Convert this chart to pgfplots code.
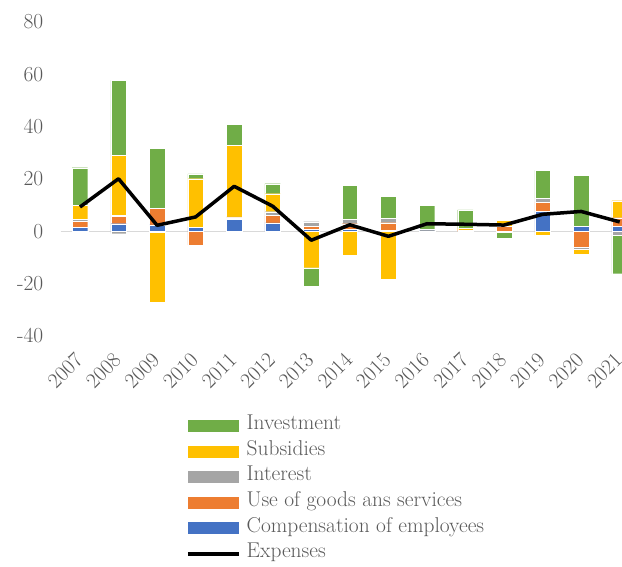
\documentclass[border=0pt]{standalone}
\usepackage{fontspec}
\usepackage{pgfplots}
\usepackage{pgfplotstable}
\pgfplotsset{compat=1.18}
\definecolor{cinv}{HTML}{70AD47}
\definecolor{csub}{HTML}{FFC000}
\definecolor{cint}{HTML}{A5A5A5}
\definecolor{cgoo}{HTML}{ED7D31}
\definecolor{ccom}{HTML}{4472C4}
\definecolor{tcol}{HTML}{595959}
\definecolor{zcol}{HTML}{D9D9D9}

\pgfplotstableread{
x comp goods inter subs inv
0  1.6 2.3 0.8 5.2 14.4
1  2.9 2.8 0.3 23.0 28.7
2  2.5 6.2 0 0 22.9
3  1.6 0 0 18.5 1.9
4  4.6 0.5 0.4 27.4 7.9
5  3.2 2.9 1.4 6.9 3.8
6  0.8 1.2 1.7 0 0
7  0.8 2.1 1.6 0 13.1
8  0.4 2.9 1.7 0 8.5
9  0.2 0 0.5 0 9.2
10 0 0.6 0 0.6 7.0
11 0 2.0 0 2.2 0
12 7.6 3.6 1.3 0 10.8
13 1.9 0 0 0 19.6
14 1.9 3.3 0 6.5 0
}\postab

\pgfplotstableread{
x comp goods inter subs inv
0  0 0 0 0 0
1  0 0 -0.9 0 0
2  0 0 -0.5 -26.7 0
3  0 -5.3 0 0 0
4  0 0 0 0 0
5  0 0 0 0 0
6  0 0 0 -13.9 -7.1
7  0 0 0 -9.0 0
8  0 0 0 -18.2 0
9  0 0 0 0 0
10 0 0 0 0 0
11 0 0 -0.3 0 -2.3
12 0 0 0 -1.5 0
13 0 -6.2 -0.8 -1.9 0
14 0 0 -1.5 0 -14.7
}\negtab

\pgfplotstableread{
x exp
0  9.3
1  20.1
2  2.3
3  5.5
4  17.2
5  9.6
6  -3.4
7  2.5
8  -1.9
9  2.9
10 2.7
11 2.4
12 6.5
13 7.6
14 3.6
}\linetab

\newcommand{\tf}{\fontsize{21.5}{25.6}\selectfont}

\pgfplotsset{
  base/.style={
    width=561.3bp, height=314bp, scale only axis,
    xmin=-0.5, xmax=14.06, ymin=-40, ymax=80,
    axis line style={draw=none},
    major tick length=0pt,
    /pgf/number format/assume math mode=true,
    ticklabel style={font=\tf, text=tcol},
    ytick={-40,-20,...,80},
    xtick={0,...,14},
    xticklabels={2007,2008,2009,2010,2011,2012,2013,2014,2015,2016,2017,2018,2019,2020,2021},
    yticklabel style={xshift=-14bp},
    xticklabel style={rotate=45, anchor=north east, xshift=-12bp, yshift=-3bp},
  },
  hid/.style={base, xticklabels={}, yticklabels={}, ytick=\empty, xtick=\empty},
  barsty/.style={draw=white, line width=0.3bp},
  legbar/.style={legend image code/.code={\fill[##1, draw=none] (0bp,-6bp) rectangle (51bp,6bp);}},
  legline/.style={legend image code/.code={\draw[##1] (0bp,0bp) -- (51bp,0bp);}},
}

\begin{document}
\begin{tikzpicture}
\begin{axis}[base, ybar stacked, bar width=15.5bp,
  extra y ticks={0}, extra y tick labels={},
  extra y tick style={grid=major, major grid style={draw=zcol, line width=1.4bp}}]
\addplot[fill=ccom, barsty] table[x=x, y=comp] {\postab};
\addplot[fill=cgoo, barsty] table[x=x, y=goods] {\postab};
\addplot[fill=cint, barsty] table[x=x, y=inter] {\postab};
\addplot[fill=csub, barsty] table[x=x, y=subs] {\postab};
\addplot[fill=cinv, barsty] table[x=x, y=inv] {\postab};
\end{axis}
\begin{axis}[hid, ybar stacked, bar width=15.5bp]
\addplot[fill=ccom, barsty] table[x=x, y=comp] {\negtab};
\addplot[fill=cgoo, barsty] table[x=x, y=goods] {\negtab};
\addplot[fill=cint, barsty] table[x=x, y=inter] {\negtab};
\addplot[fill=csub, barsty] table[x=x, y=subs] {\negtab};
\addplot[fill=cinv, barsty] table[x=x, y=inv] {\negtab};
\end{axis}
\begin{axis}[hid,
  legend style={at={(axis description cs:0,0)}, anchor=north west,
    xshift=125.3bp, yshift=-76.9bp, draw=none, fill=none, inner sep=0pt,
    font=\tf, text=tcol, column sep=6bp, row sep=0pt,
    nodes={inner sep=0pt, text height=16.5bp, text depth=9.1bp}},
  legend cell align=left]
\addlegendimage{legbar, fill=cinv}
\addlegendentry{Investment}
\addlegendimage{legbar, fill=csub}
\addlegendentry{Subsidies}
\addlegendimage{legbar, fill=cint}
\addlegendentry{Interest}
\addlegendimage{legbar, fill=cgoo}
\addlegendentry{Use of goods ans services}
\addlegendimage{legbar, fill=ccom}
\addlegendentry{Compensation of employees}
\addlegendimage{legline, black, line width=3.5bp}
\addlegendentry{Expenses}
\addplot[black, line width=3.5bp, line join=round, forget plot] table[x=x, y=exp] {\linetab};
\end{axis}
\pgfresetboundingbox
\path[use as bounding box] (-60.7bp,-231bp) rectangle (561.3bp,336bp);
\end{tikzpicture}
\end{document}
